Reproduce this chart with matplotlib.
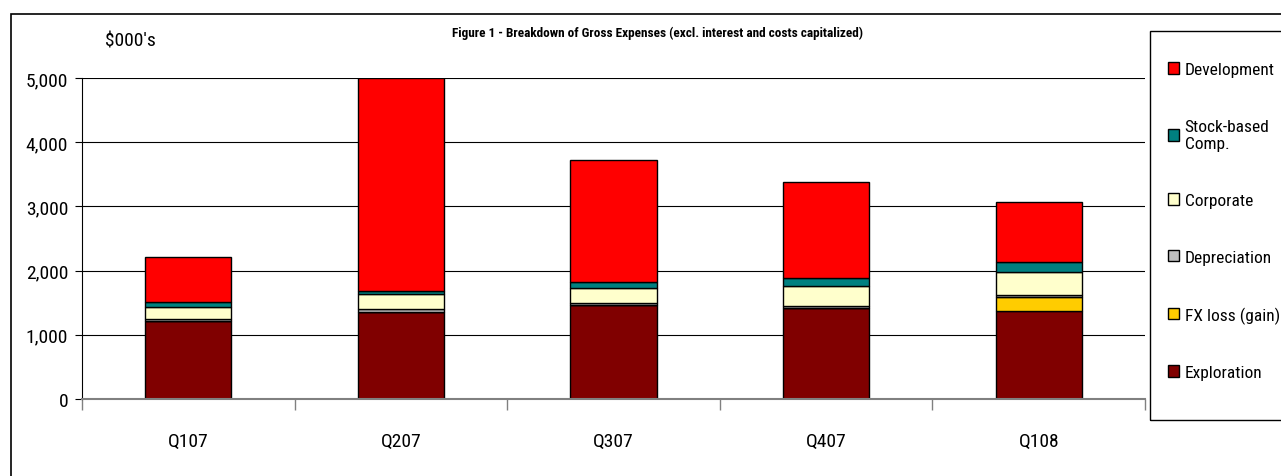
import numpy as np
import matplotlib.pyplot as plt
from matplotlib.patches import Rectangle, Patch
from matplotlib import font_manager

names = {f.name for f in font_manager.fontManager.ttflist}
prefs = ['Roboto Condensed', 'Liberation Sans Narrow', 'Roboto', 'Liberation Sans']
base_font = next((p for p in prefs if p in names), 'DejaVu Sans')
plt.rcParams['font.family'] = [base_font, 'DejaVu Sans']

quarters = ['Q107', 'Q207', 'Q307', 'Q407', 'Q108']

# $000's, stacked bottom to top
exploration = [1219, 1360, 1464, 1412, 1366]
fx_loss = [0, 0, 0, 0, 218]
depreciation = [25, 35, 30, 30, 35]
corporate = [190, 240, 235, 318, 358]
stock_comp = [80, 50, 90, 130, 160]
development = [700, 3310, 1905, 1490, 934]

series = [
    ('Exploration', exploration, '#800000'),
    ('FX loss (gain)', fx_loss, '#FFCC00'),
    ('Depreciation', depreciation, '#C0C0C0'),
    ('Corporate', corporate, '#FFFFCC'),
    ('Stock-based\nComp.', stock_comp, '#008080'),
    ('Development', development, '#FF0000'),
]

fig = plt.figure(figsize=(12.81, 4.77), dpi=100)
ax = fig.add_axes([82 / 1281, 1 - 400 / 477, (1145 - 82) / 1281, (400 - 79) / 477])

x = np.arange(len(quarters))
bottom = np.zeros(len(quarters))
handles = []
for label, vals, color in series:
    vals = np.array(vals, dtype=float)
    ax.bar(x, vals, width=0.405, bottom=bottom, color=color,
           edgecolor='black', linewidth=1, zorder=3)
    bottom += vals
    handles.append(Patch(facecolor=color, edgecolor='black', linewidth=1, label=label))

ax.set_xlim(-0.5, len(quarters) - 0.5)
ax.set_ylim(0, 5000)
ax.set_yticks(np.arange(0, 5001, 1000))
ax.set_yticklabels([f'{v:,}' for v in range(0, 5001, 1000)], fontsize=14)
ax.yaxis.grid(True, color='black', linewidth=0.8, zorder=0)
ax.tick_params(axis='y', length=5, width=0.8, color='black', pad=5)

ax.set_xticks(np.arange(-0.5, len(quarters), 1))
ax.set_xticklabels([])
ax.tick_params(axis='x', which='major', length=8, width=1, color='#808080', direction='out')
ax.set_xticks(x, minor=True)
ax.set_xticklabels(quarters, minor=True, fontsize=14)
ax.tick_params(axis='x', which='minor', length=0, pad=24)

for s in ['top', 'right']:
    ax.spines[s].set_visible(False)
ax.spines['left'].set_color('black')
ax.spines['left'].set_linewidth(0.8)
ax.spines['bottom'].set_color('#808080')
ax.spines['bottom'].set_linewidth(1.5)
ax.spines['bottom'].set_zorder(4)

fig.text(658 / 1281, 1 - 33 / 477, 'Figure 1 - Breakdown of Gross Expenses (excl. interest and costs capitalized)',
         ha='center', va='center', fontsize=9.5, fontweight='bold')
fig.text(105 / 1281, 1 - 42 / 477, "$000's", ha='left', va='center', fontsize=14)

# outer chart frame
fig.patches.append(Rectangle((11 / 1281, -0.1), 2, 1 - 15 / 477 + 0.1, transform=fig.transFigure,
                             fill=False, edgecolor='black', linewidth=1.2))

# legend box drawn separately so its height can match the original
fig.patches.append(Rectangle((1150 / 1281, 1 - 421 / 477), 0.2, (421 - 32) / 477, transform=fig.transFigure,
                             fill=False, edgecolor='black', linewidth=1))
fig.legend(handles=handles[::-1], loc='upper left', bbox_to_anchor=(1163 / 1281, 1 - 58 / 477),
           fontsize=12.5, frameon=False,
           handlelength=0.65, handleheight=0.65, handletextpad=0.3, labelspacing=2.4,
           borderpad=0.3, borderaxespad=0)

fig.savefig('out.png', dpi=100)
